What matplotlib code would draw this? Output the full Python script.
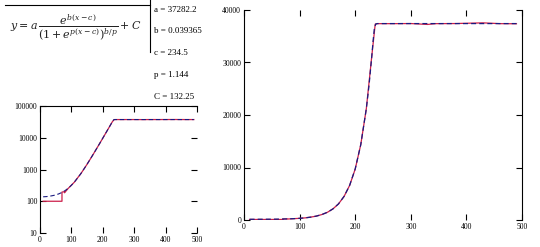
import matplotlib
matplotlib.use("Agg")
import matplotlib.pyplot as plt
from matplotlib.lines import Line2D

plt.rcParams['font.family'] = ['Liberation Serif', 'DejaVu Serif']
plt.rcParams['mathtext.fontset'] = 'dejavuserif'

# fitted curve
fit_x = [10, 20, 30, 40, 50, 60, 70, 80, 90, 100, 110, 120, 130, 140, 150, 160,
         170, 180, 190, 200, 210, 220, 225, 230, 232, 234.5, 237, 240, 260, 300,
         350, 400, 450, 490]
fit_y = [138, 140, 144, 150, 158, 171, 190, 217, 258, 319, 410, 544, 741, 1036,
         1472, 2116, 3073, 4494, 6597, 9721, 14348, 21196, 25782, 31358, 33929,
         36534, 37340, 37414, 37414, 37414, 37414, 37414, 37414, 37414]

data_x = [10, 70, 70, 78, 78, 90, 100, 110, 120, 130, 140, 150, 160, 170, 180,
          190, 200, 210, 220, 230, 236, 240, 270, 300, 330, 345, 380, 430, 460, 490]
data_y = [100, 100, 195, 200, 185, 255, 320, 405, 550, 735, 1040, 1465, 2120,
          3070, 4500, 6590, 9700, 14350, 21200, 31400, 37300, 37400, 37400, 37420,
          37250, 37400, 37420, 37550, 37400, 37380]

params = [("a", "37282.2"), ("b", "0.039365"), ("c", "234.5"), ("p", "1.144"), ("C", "132.25")]

red = '#cc1f4a'
blue = '#1a1a80'

fig = plt.figure(figsize=(5.4, 2.47), dpi=100)

# formula
fig.text(10/540, 1 - 27/247, r'$y = a\,\dfrac{e^{b(x-c)}}{(1+e^{p(x-c)})^{b/p}} + C$',
         fontsize=7.9, va='center', ha='left', color='#222222')
fig.add_artist(Line2D([5/540, 150/540], [1 - 5/247, 1 - 5/247], color='black', lw=0.8))
fig.add_artist(Line2D([150/540, 150/540], [1.0, 1 - 52/247], color='black', lw=0.8))

ys = [10, 31, 53, 75, 97]
for (n, v), yy in zip(params, ys):
    fig.text(154/540, 1 - yy/247, f"{n} = {v}", fontsize=6.5, va='center', ha='left')

# left log plot
ax1 = fig.add_axes([40/540, 1 - 233/247, 157/540, (233 - 106)/247])
ax1.plot(data_x, data_y, color=red, lw=0.9)
ax1.plot(fit_x, fit_y, color=blue, lw=0.8, dashes=(4, 2.5))
ax1.set_yscale('log')
ax1.set_xlim(0, 500)
ax1.set_ylim(10, 100000)
ax1.set_xticks([0, 100, 200, 300, 400, 500])
ax1.set_yticks([10, 100, 1000, 10000, 100000])
ax1.set_yticklabels(['10', '100', '1000', '10000', '100000'])
ax1.minorticks_off()
for s in ['right', 'bottom']:
    ax1.spines[s].set_visible(False)
ax1.tick_params(direction='in', length=4, width=0.8, labelsize=5.5, pad=2,
                top=True, right=True)

# right linear plot
ax2 = fig.add_axes([244/540, 1 - 220/247, 278/540, 210/247])
ax2.plot(data_x, data_y, color=red, lw=0.9)
ax2.plot(fit_x, fit_y, color=blue, lw=0.9, dashes=(4, 2.5))
ax2.set_xlim(0, 500)
ax2.set_ylim(0, 40000)
ax2.set_xticks([0, 100, 200, 300, 400, 500])
ax2.set_yticks([0, 10000, 20000, 30000, 40000])
for s in ['top', 'bottom']:
    ax2.spines[s].set_visible(False)
ax2.tick_params(direction='in', length=4, width=0.8, labelsize=5.5, pad=2,
                top=True, right=True)

fig.savefig('out.png', dpi=100)
